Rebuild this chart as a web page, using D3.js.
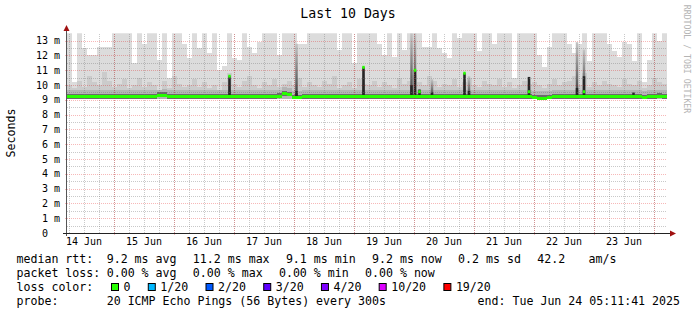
<!DOCTYPE html>
<html><head><meta charset="utf-8">
<script src="https://cdn.jsdelivr.net/npm/d3@7"></script>
<style>
html,body{margin:0;padding:0;background:#fff;}
svg{display:block;}
text{font-family:"DejaVu Sans Mono",monospace;white-space:pre;}
</style></head><body>
<svg id="c" width="697" height="315"></svg>
<script>
const chartTitle = "Last 10 Days";
const startTime = "2025-06-14T05:11:41Z";
const endTime = "2025-06-24T05:11:41Z";
const stepHours = 2;
const yTicks = [0,1,2,3,4,5,6,7,8,9,10,11,12,13];
const yTickLabels = ["0  ","1 m","2 m","3 m","4 m","5 m","6 m","7 m","8 m","9 m","10 m","11 m","12 m","13 m"];
const dayLabels = ["14 Jun","15 Jun","16 Jun","17 Jun","18 Jun","19 Jun","20 Jun","21 Jun","22 Jun","23 Jun"];
// smoke envelope per 2h bucket (ms): top of outer smoke (clipped at 13.5)
const smokeMax = [13.5,10.2,13.5,12.5,12.0,12.0,12.6,12.6,12.6,13.5,
  13.5,13.5,13.5,11.5,13.5,12.8,13.5,13.5,11.7,13.5,
  10.5,13.5,13.5,12.8,11.8,13.5,12.5,13.5,12.2,13.5,
  11.0,11.3,13.5,11.8,11.7,13.5,12.6,12.2,12.9,13.5,
  13.5,13.5,12.0,13.5,13.5,13.5,12.8,12.8,13.5,13.5,
  13.5,13.5,13.5,13.5,12.35,13.5,13.5,11.5,13.5,13.5,
  13.5,13.5,12.8,12.0,13.5,11.9,13.5,12.35,13.5,13.5,
  13.5,12.6,12.6,13.5,12.5,12.2,11.8,13.5,13.2,13.5,
  13.5,13.5,12.3,13.5,13.5,12.8,13.5,13.5,13.5,10.5,
  13.5,13.5,13.5,13.5,12.0,11.2,12.6,13.5,13.5,13.5,
  12.8,12.15,12.8,13.5,11.6,13.5,13.5,13.5,12.8,12.3,
  11.9,12.9,12.8,11.6,13.5,10.2,11.7,13.5,13.0,13.5];
// top of the middle smoke layers
const smokeMid = [10.0,9.8,10.3,9.9,10.6,10.2,10.0,10.9,10.3,9.9,
  10.1,10.4,9.8,10.0,10.5,9.9,10.2,10.0,9.7,10.3,
  9.8,10.6,10.1,9.9,10.0,10.4,9.9,10.2,9.8,10.0,
  9.7,10.2,10.8,10.1,9.9,10.3,10.6,10.0,9.8,10.2,
  10.0,10.4,9.9,10.1,10.3,10.0,10.5,9.9,10.2,10.0,
  9.9,10.3,10.1,10.6,9.8,10.0,10.2,9.8,10.4,10.1,
  10.0,10.3,9.9,10.2,10.0,9.8,10.5,10.1,10.3,10.7,
  10.2,10.0,10.6,10.3,9.9,10.1,10.0,10.4,9.9,10.2,
  10.5,10.0,9.9,10.3,10.1,10.0,10.4,9.9,10.2,9.8,
  10.0,10.3,10.1,10.2,10.0,9.8,10.1,10.4,10.0,10.2,
  10.3,10.6,10.0,10.8,9.9,10.2,10.0,10.3,10.1,10.0,
  9.9,10.4,10.1,10.0,10.3,9.8,10.0,10.5,10.2,10.1];
const smokeLow = 9.05;
const median = [9.2,9.2,9.2,9.2,9.2,9.2,9.2,9.2,9.2,9.2,
  9.2,9.2,9.2,9.2,9.2,9.2,9.2,9.2,9.3,9.3,
  9.2,9.2,9.2,9.2,9.2,9.2,9.2,9.2,9.2,9.2,
  9.2,9.2,9.2,9.2,9.2,9.2,9.2,9.2,9.2,9.2,
  9.2,9.2,9.25,9.4,9.35,9.15,9.15,9.2,9.2,9.2,
  9.2,9.2,9.2,9.2,9.2,9.2,9.2,9.2,9.2,9.2,
  9.2,9.2,9.2,9.2,9.2,9.2,9.2,9.2,9.2,9.2,
  9.2,9.2,9.2,9.2,9.2,9.2,9.2,9.2,9.2,9.2,
  9.2,9.2,9.2,9.2,9.2,9.2,9.2,9.2,9.2,9.2,
  9.2,9.2,9.2,9.15,9.12,9.12,9.15,9.2,9.2,9.2,
  9.2,9.2,9.2,9.2,9.2,9.2,9.2,9.2,9.2,9.2,
  9.2,9.2,9.2,9.2,9.2,9.15,9.2,9.2,9.25,9.2];
// narrow 1h events: hour offset from start, outer smoke top, dark core top, median
const spikeHour = [65.0, 91.8, 118.6, 137.8, 139.2, 141.0, 146.0, 159.0, 160.8, 184.8, 204.0, 206.8, 226.6];
const spikeTop  = [10.6, 12.8, 11.2, 13.5, 13.5, 9.7, 10.4, 10.8, 10.6, 10.55, 12.9, 12.4, 9.5];
const spikeCore = [10.6, 9.6, 11.2, 10.0, 11.0, 9.7, 9.5, 10.8, 9.6, 10.55, 9.8, 10.6, 9.5];
const spikeMed  = [10.6, 9.2, 11.2, 9.2, 11.0, 9.55, 9.2, 10.8, 9.2, 9.55, 9.2, 9.55, 9.2];
const lossLabels = ["0","1/20","2/20","3/20","4/20","10/20","19/20"];
const lossColors = ["#26ff00","#00b8ff","#0059ff","#5e00ff","#7e00ff","#dd00ff","#ff0000"];
const statRtt = ["9.2 ms avg","11.2 ms max","9.1 ms min","9.2 ms now","0.2 ms sd","42.2"," am/s"];
const statLoss = ["0.00 % avg","0.00 % max","0.00 % min","0.00 % now"];
const probeText = "20 ICMP Echo Pings (56 Bytes) every 300s";
const endText = "end: Tue Jun 24 05:11:41 2025";

const svg = d3.select("#c");
const X0 = 67, X1 = 667, Y0 = 233, Y1 = 33.3;
const t0 = new Date(startTime), t1 = new Date(endTime);
const x = d3.scaleUtc().domain([t0, t1]).range([X0, X1]);
const y = d3.scaleLinear().domain([0, 13.5]).range([Y0, Y1]);
const hour = 3600e3;
const colT = i => new Date(+t0 + i*stepHours*hour);
const spT = i => new Date(+t0 + spikeHour[i]*hour);

const defs = svg.append("defs");
defs.append("clipPath").attr("id","pc").append("rect")
  .attr("x",X0).attr("y",Y1).attr("width",X1-X0).attr("height",Y0-Y1);
const grad = defs.append("linearGradient").attr("id","sg").attr("x1",0).attr("y1",0).attr("x2",0).attr("y2",1);
grad.append("stop").attr("offset","0%").attr("stop-color","#c4c4c4");
grad.append("stop").attr("offset","100%").attr("stop-color","#3c3c3c");

const plot = svg.append("g").attr("clip-path","url(#pc)");
const cols = d3.range(smokeMax.length);
function band(parent, lo, hi, color){
  parent.append("g").selectAll("rect").data(cols).join("rect")
    .attr("x", i => x(colT(i)))
    .attr("width", i => x(colT(i+1)) - x(colT(i)) + 0.02)
    .attr("y", i => y(hi(i)))
    .attr("height", i => Math.max(0, y(lo(i)) - y(hi(i))))
    .attr("fill", color).attr("shape-rendering","crispEdges");
}
band(plot, () => smokeLow, i => smokeMax[i], "#dcdcdc");
band(plot, () => smokeLow, i => smokeMid[i], "#cbcbcb");
band(plot, () => smokeLow + 0.02, i => Math.min(smokeMid[i], median[i] + 0.45), "#b4b4b4");
band(plot, i => median[i] - 0.12, i => median[i] + 0.2, "#6a6a6a");

// narrow events
const sp = d3.range(spikeHour.length);
const spW = 2.5;
plot.append("g").selectAll("rect").data(sp).join("rect")
  .attr("x", i => x(spT(i)) - spW/2).attr("width", spW)
  .attr("y", i => y(spikeTop[i]))
  .attr("height", i => y(9.2) - y(spikeTop[i]))
  .attr("fill", "url(#sg)");
plot.append("g").selectAll("rect").data(sp).join("rect")
  .attr("x", i => x(spT(i)) - spW/2).attr("width", spW)
  .attr("y", i => y(spikeCore[i]))
  .attr("height", i => Math.max(0, y(9.2) - y(spikeCore[i])))
  .attr("fill", "#262626");

// grid
const g = svg.append("g").attr("shape-rendering","crispEdges");
const minorC = "rgba(120,120,120,0.4)", majorC = "rgba(225,0,0,0.28)";
const minorY = d3.range(0.5, 13.5, 1);
g.selectAll(".my").data(minorY).join("line")
  .attr("x1", X0).attr("x2", X1).attr("y1", d => Math.round(y(d))+0.5).attr("y2", d => Math.round(y(d))+0.5)
  .attr("stroke",minorC).attr("stroke-dasharray","1,1");
const minorX = d3.utcHour.every(6).range(t0, t1);
g.selectAll(".mx").data(minorX).join("line")
  .attr("y1", Y0).attr("y2", Y1).attr("x1", d => Math.round(x(d))+0.5).attr("x2", d => Math.round(x(d))+0.5)
  .attr("stroke",minorC).attr("stroke-dasharray","1,1");
g.selectAll(".My").data(yTicks.slice(1)).join("line")
  .attr("x1", X0-2).attr("x2", X1).attr("y1", d => Math.round(y(d))+0.5).attr("y2", d => Math.round(y(d))+0.5)
  .attr("stroke",majorC).attr("stroke-dasharray","1,1");
const majorX = d3.utcDay.range(t0, t1);
g.selectAll(".Mx").data(majorX).join("line")
  .attr("y1", Y0+2).attr("y2", Y1).attr("x1", d => Math.round(x(d))+0.5).attr("x2", d => Math.round(x(d))+0.5)
  .attr("stroke",majorC).attr("stroke-dasharray","1,1");

// median band (drawn over grid)
const med = svg.append("g").attr("clip-path","url(#pc)");
band(med, i => median[i] - 0.1, i => median[i] + 0.1, "#26ff00");
med.append("g").selectAll("rect").data(sp.filter(i => spikeMed[i] > 9.3)).join("rect")
  .attr("x", i => x(spT(i)) - spW/2).attr("width", spW)
  .attr("y", i => y(spikeMed[i] + 0.1))
  .attr("height", i => y(spikeMed[i] - 0.1) - y(spikeMed[i] + 0.1))
  .attr("fill", "#26ff00");

// axes
g.append("line").attr("x1", X0-0.5).attr("x2", X0-0.5).attr("y1", Y0+3).attr("y2", 30).attr("stroke","#555");
g.append("line").attr("x1", X0-4).attr("x2", 672).attr("y1", Y0+0.5).attr("y2", Y0+0.5).attr("stroke","#222");
svg.append("path").attr("d", `M${X0-3.5},31 L${X0+2.5},31 L${X0-0.5},25 Z`).attr("fill","#a01010");
svg.append("path").attr("d", `M670,${Y0-2.5} L670,${Y0+3.5} L676,${Y0+0.5} Z`).attr("fill","#a01010");

// y labels
svg.append("g").selectAll("text").data(yTicks).join("text")
  .attr("x", 60).attr("y", d => y(d)+3.5).attr("text-anchor","end")
  .attr("font-size","10px").attr("fill","#000")
  .text((d,i) => yTickLabels[i]);
// x labels at noon of each day
const firstNoon = d3.utcHour.offset(d3.utcDay.floor(t0), 12);
svg.append("g").selectAll("text").data(dayLabels).join("text")
  .attr("x", (d,i) => x(d3.utcDay.offset(firstNoon, i)))
  .attr("y", 245).attr("text-anchor","middle").attr("font-size","10px").attr("fill","#000")
  .text(d => d);

// title and side texts
svg.append("text").attr("x", 348).attr("y", 18).attr("text-anchor","middle")
  .attr("font-size","13.2px").attr("fill","#000").text(chartTitle);
svg.append("text").attr("transform","translate(14.5,133) rotate(-90)").attr("text-anchor","middle")
  .attr("font-size","11.6px").attr("fill","#000").text("Seconds");
svg.append("text").attr("transform","translate(684,59) rotate(90)").attr("text-anchor","middle")
  .attr("font-size","8.2px").attr("fill","#b4b4b4").text("RRDTOOL / TOBI OETIKER");

// legend
const LF = "11.6px", glue = 16.3;
function row(yb, label, items, startX){
  svg.append("text").attr("x",16.5).attr("y",yb).attr("font-size",LF).text(label);
  let cx = startX;
  items.forEach(s => {
    const t = svg.append("text").attr("x",cx).attr("y",yb).attr("font-size",LF).text(s);
    cx += t.node().getComputedTextLength() + glue;
  });
}
row(263, "median rtt:", statRtt, 106.7);
row(277, "packet loss:", statLoss, 106.7);
svg.append("text").attr("x",16.5).attr("y",291).attr("font-size",LF).text("loss color:");
let lx = 110;
lossLabels.forEach((s,i) => {
  svg.append("rect").attr("x", lx+1.5).attr("y", 283.5).attr("width",7).attr("height",7)
    .attr("fill", lossColors[i]).attr("stroke","#000").attr("stroke-width",1);
  const t = svg.append("text").attr("x", lx+13.5).attr("y",291).attr("font-size",LF).text(s);
  lx += 13.5 + t.node().getComputedTextLength() + glue;
});
svg.append("text").attr("x",16.5).attr("y",305).attr("font-size",LF).text("probe:");
svg.append("text").attr("x",106.7).attr("y",305).attr("font-size",LF).text(probeText);
svg.append("text").attr("x",680).attr("y",305).attr("text-anchor","end").attr("font-size",LF).text(endText);
</script></body></html>
